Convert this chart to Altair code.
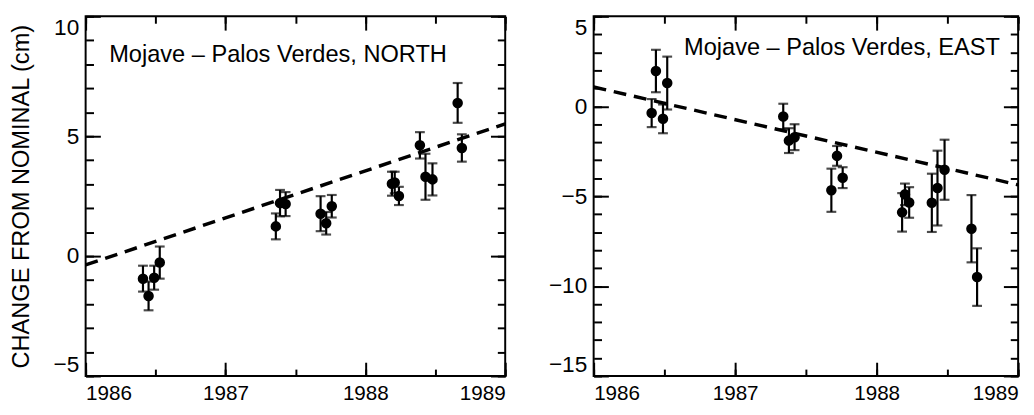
import altair as alt
import pandas as pd

# ---------------- data ----------------
north_year = [1986.41, 1986.45, 1986.49, 1986.53, 1987.36, 1987.39, 1987.43,
              1987.68, 1987.72, 1987.76, 1988.19, 1988.21, 1988.24, 1988.39,
              1988.43, 1988.48, 1988.66, 1988.69]
north_value = [-0.94, -1.66, -0.90, -0.27, 1.24, 2.21, 2.17, 1.77, 1.37, 2.08,
               3.02, 3.07, 2.51, 4.62, 3.31, 3.20, 6.39, 4.51]
north_err = [0.54, 0.60, 0.50, 0.67, 0.54, 0.55, 0.50, 0.73, 0.47, 0.47,
             0.50, 0.45, 0.38, 0.55, 0.96, 0.67, 0.83, 0.57]

east_year = [1986.41, 1986.44, 1986.49, 1986.52, 1987.34, 1987.38, 1987.42,
             1987.72, 1987.68, 1987.76, 1988.18, 1988.20, 1988.23, 1988.39,
             1988.43, 1988.48, 1988.67, 1988.71]
east_value = [-0.38, 1.96, -0.70, 1.29, -0.57, -1.91, -1.72, -2.76, -4.67, -3.97,
              -5.90, -4.90, -5.35, -5.37, -4.55, -3.53, -6.81, -9.50]
east_err = [0.78, 1.18, 0.80, 1.47, 0.71, 0.69, 0.72, 0.55, 1.20, 0.58,
            1.07, 0.60, 0.85, 1.62, 2.08, 1.67, 1.87, 1.60]

trend_year = [1986, 1989]
north_trend = [-0.37, 5.52]
east_trend = [1.07, -4.37]

year_ticks = [1986, 1987, 1988, 1989]
half_year_ticks = [1986, 1986.5, 1987, 1987.5, 1988, 1988.5, 1989]
north_domain = [-5, 10]
east_domain = [-15, 5]
north_labels = [-5, 0, 5, 10]
east_labels = [-15, -10, -5, 0, 5]

north_title = "Mojave \u2013 Palos Verdes, NORTH"
east_title = "Mojave \u2013 Palos Verdes, EAST"
y_title = "CHANGE FROM NOMINAL (cm)"

FONT = "Liberation Sans"
H = 366


def tick_axis(orient, offset, values, size):
    return alt.Axis(orient=orient, offset=offset, values=values, labels=False,
                    domain=False, grid=False, ticks=True, tickSize=size,
                    tickWidth=2, tickColor="black", title=None)


def panel(year, value, err, trend, labels, domain, text, tx, ty, width, ytitle):
    df = pd.DataFrame({
        "year": year,
        "value": value,
        "lo": [v - e for v, e in zip(value, err)],
        "hi": [v + e for v, e in zip(value, err)],
    })
    tdf = pd.DataFrame({"year": trend_year, "value": trend})
    xs = alt.Scale(domain=[1986, 1989], nice=False, zero=False)
    ys = alt.Scale(domain=domain, nice=False, zero=False)
    minor = list(range(domain[0], domain[1] + 1))

    yaxis_kw = dict(orient="left", values=labels, labelFlush=True, ticks=False,
                    tickSize=0, domain=False, grid=False, labelPadding=7,
                    labelFontSize=23)
    if ytitle:
        yaxis_kw.update(title=ytitle, titleFontSize=24, titleFontWeight="normal",
                        titlePadding=20)
    else:
        yaxis_kw.update(title=None)

    bars = alt.Chart(df).mark_rule(color="black", strokeWidth=2.2).encode(
        x=alt.X("year:Q", scale=xs,
                axis=alt.Axis(orient="bottom", values=year_ticks, format="d",
                              labelFlush=True, ticks=False, tickSize=0,
                              domain=False, grid=False, labelPadding=7,
                              labelFontSize=21, title=None)),
        y=alt.Y("lo:Q", scale=ys, axis=alt.Axis(**yaxis_kw)),
        y2="hi:Q",
    )
    caps_hi = alt.Chart(df).mark_tick(orient="horizontal", size=10, thickness=2.2,
                                      color="black").encode(
        x=alt.X("year:Q", scale=xs, axis=tick_axis("top", -H, half_year_ticks, 7)),
        y=alt.Y("hi:Q", scale=ys, axis=tick_axis("right", -width, minor, 8)),
    )
    caps_lo = alt.Chart(df).mark_tick(orient="horizontal", size=10, thickness=2.2,
                                      color="black").encode(
        x=alt.X("year:Q", scale=xs, axis=tick_axis("top", -H, year_ticks, 14)),
        y=alt.Y("lo:Q", scale=ys, axis=tick_axis("right", -width, labels, 15)),
    )
    points = alt.Chart(df).mark_circle(size=115, color="black", opacity=1).encode(
        x=alt.X("year:Q", scale=xs, axis=tick_axis("bottom", -H, half_year_ticks, 7)),
        y=alt.Y("value:Q", scale=ys, axis=tick_axis("left", -width, minor, 8)),
    )
    line = alt.Chart(tdf).mark_line(color="black", strokeWidth=3.5,
                                    strokeDash=[13, 8]).encode(
        x=alt.X("year:Q", scale=xs, axis=tick_axis("bottom", -H, year_ticks, 14)),
        y=alt.Y("value:Q", scale=ys, axis=tick_axis("left", -width, labels, 15)),
    )
    label = alt.Chart(pd.DataFrame({"t": [text]})).mark_text(
        align="left", baseline="alphabetic", fontSize=24, font=FONT, color="black"
    ).encode(x=alt.value(tx), y=alt.value(ty), text="t:N")

    return alt.layer(bars, caps_hi, caps_lo, points, line, label).resolve_axis(
        x="independent", y="independent").properties(width=width, height=H)


left = panel(north_year, north_value, north_err, north_trend, north_labels,
             north_domain, north_title, 24, 46, 427, y_title)
right = panel(east_year, east_value, east_err, east_trend, east_labels,
              east_domain, east_title, 92, 39, 432, None)

chart = alt.hconcat(left, right, spacing=34).properties(
    padding={"left": 0, "top": 3, "right": 0, "bottom": -4}
).configure_view(stroke="black", strokeWidth=2).configure_axis(
    labelFont=FONT, titleFont=FONT, labelColor="black", titleColor="black"
)

chart.save("out.html", embed_options={"renderer": "svg", "actions": False})
